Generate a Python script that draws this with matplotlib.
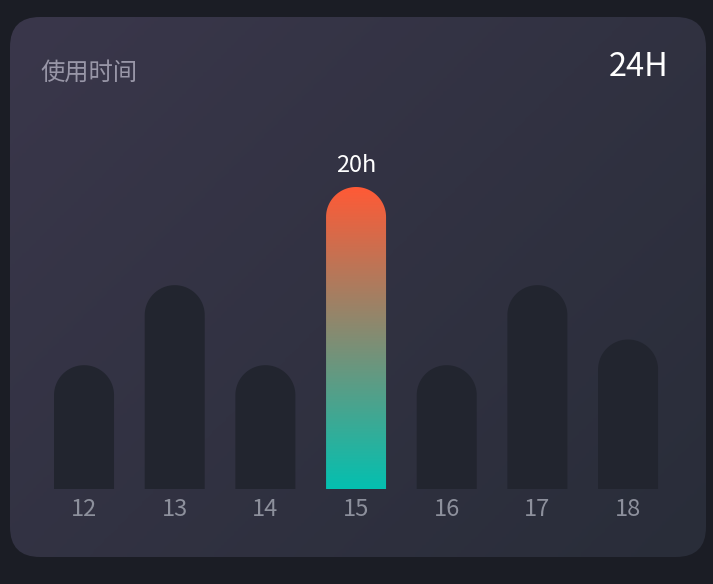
import numpy as np
import matplotlib
matplotlib.use('Agg')
import matplotlib.pyplot as plt
from matplotlib.patches import FancyBboxPatch, PathPatch
from matplotlib.path import Path
from matplotlib.colors import LinearSegmentedColormap

plt.rcParams['font.family'] = ['Noto Sans CJK SC', 'DejaVu Sans']

# data
hours = ['12', '13', '14', '15', '16', '17', '18']
usage = [8.2, 13.5, 8.2, 20, 8.2, 13.5, 9.9]
highlight = '15'
title = '使用时间'
total_label = '24H'
y_max = 24

fig = plt.figure(figsize=(7.13, 5.84), dpi=100)
fig.patch.set_facecolor('#1b1d25')

# card background with a diagonal gradient
bg = fig.add_axes([0, 0, 1, 1])
bg.set_xlim(0, 713)
bg.set_ylim(584, 0)
bg.axis('off')
card = FancyBboxPatch((10, 17), 696, 540, boxstyle='round,pad=0,rounding_size=30',
                      fc='none', ec='none')
bg.add_patch(card)
yy, xx = np.mgrid[0:1:200j, 0:1:200j]
t = (xx * 696 + yy * 540) / (696 + 540)
card_cmap = LinearSegmentedColormap.from_list('card', ['#3a374b', '#292d39'])
im = bg.imshow(t, cmap=card_cmap, extent=(10, 706, 557, 17), aspect='auto',
               interpolation='bilinear')
im.set_clip_path(card)
bg.set_xlim(0, 713)
bg.set_ylim(584, 0)

bg.text(40, 73, title, color='#9896a7', fontsize=17.5, va='center', ha='left')
bg.text(668, 67, total_label, color='white', fontsize=23.5, va='center', ha='right')

# bar chart area
ax_box = [38.7 / 713, 95 / 584, 634.7 / 713, 362.4 / 584]
ax = fig.add_axes(ax_box)
ax.patch.set_alpha(0)
for s in ax.spines.values():
    s.set_visible(False)

n = len(hours)
bar_w = 60 / 90.67
px_x = ax_box[2] * 713 / n
px_y = ax_box[3] * 584 / y_max
rx = bar_w / 2
ry = rx * px_x / px_y

bar_cmap = LinearSegmentedColormap.from_list('hl', ['#04c0b0', '#ff5a36'])


def bar_path(x, v):
    theta = np.linspace(np.pi, 0, 60)
    arc = np.column_stack([x + rx * np.cos(theta), v - ry + ry * np.sin(theta)])
    verts = [(x - rx, 0), (x - rx, v - ry)] + [tuple(p) for p in arc] + \
            [(x + rx, v - ry), (x + rx, 0), (x - rx, 0)]
    codes = [Path.MOVETO] + [Path.LINETO] * (len(verts) - 2) + [Path.CLOSEPOLY]
    return Path(verts, codes)


for i, (h, v) in enumerate(zip(hours, usage)):
    if h == highlight:
        patch = PathPatch(bar_path(i, v), fc='none', ec='none')
        ax.add_patch(patch)
        grad = np.linspace(1, 0, 256).reshape(-1, 1)
        gim = ax.imshow(grad, cmap=bar_cmap, extent=(i - rx, i + rx, 0, v),
                        aspect='auto', interpolation='bilinear', origin='upper')
        gim.set_clip_path(patch)
        ax.annotate(f'{v:g}h', (i, v), xytext=(0, 15.5), textcoords='offset points',
                    ha='center', va='center', color='white', fontsize=17)
    else:
        ax.add_patch(PathPatch(bar_path(i, v), fc='#22252f', ec='none'))

ax.set_xlim(-0.5, n - 0.5)
ax.set_ylim(0, y_max)
ax.set_yticks([])
ax.set_xticks(range(n), hours)
ax.tick_params(axis='x', length=0, pad=6.5, labelsize=17, labelcolor='#8d909c')

fig.savefig('out.png', dpi=100, facecolor=fig.get_facecolor())
